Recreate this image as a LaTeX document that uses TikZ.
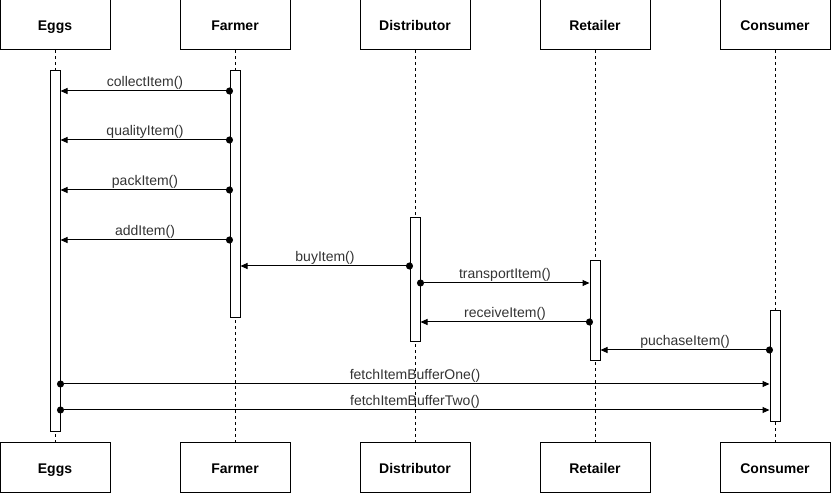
\documentclass[tikz,border=0pt]{standalone}
\usepackage{fontspec}
\setmainfont{Liberation Sans}
\usetikzlibrary{arrows.meta}

\begin{document}
\begin{tikzpicture}[x=1pt,y=-1pt,line width=1pt,
      head/.style={draw,minimum width=110pt,minimum height=50pt,inner sep=0pt,text height=12pt,text depth=0pt,font=\fontsize{14}{16}\selectfont\bfseries},
      bar/.style={draw,fill=white,minimum width=10pt,inner sep=0pt,anchor=north},
      life/.style={line width=0.8pt,dash pattern=on 3pt off 3pt},
      msg/.style={{Circle[length=7pt]}-{Triangle[length=7pt,width=6pt]},shorten <=-3.5pt},
      lbl/.style={above=0pt,inner sep=1pt,text=black!80,font=\fontsize{14}{16}\selectfont}]
  \useasboundingbox (0,0) rectangle (831,494);
  % heads, top and bottom
  \node[head] (eggs) at (55,25) {Eggs};
  \node[head] (farmer) at (235,25) {Farmer};
  \node[head] (dist) at (415,25) {Distributor};
  \node[head] (retail) at (595,25) {Retailer};
  \node[head] (cons) at (775,25) {Consumer};
  \node[head] (eggsb) at (55,468) {Eggs};
  \node[head] (farmerb) at (235,468) {Farmer};
  \node[head] (distb) at (415,468) {Distributor};
  \node[head] (retailb) at (595,468) {Retailer};
  \node[head] (consb) at (775,468) {Consumer};
  % lifelines
  \draw[life] (eggs.south) -- (eggsb.north);
  \draw[life] (farmer.south) -- (farmerb.north);
  \draw[life] (dist.south) -- (distb.north);
  \draw[life] (retail.south) -- (retailb.north);
  \draw[life] (cons.south) -- (consb.north);
  % activations
  \node[bar,minimum height=361pt] (eggsbar) at (55,70) {};
  \node[bar,minimum height=247pt] (farmerbar) at (235,70) {};
  \node[bar,minimum height=124pt] (distbar) at (415,217) {};
  \node[bar,minimum height=100pt] (retailbar) at (595,260) {};
  \node[bar,minimum height=111pt] (consbar) at (775,310) {};
  % messages
  \draw[msg] (farmerbar.west |- 0,91) -- node[lbl]{collectItem()} (eggsbar.east |- 0,91);
  \draw[msg] (farmerbar.west |- 0,140) -- node[lbl]{qualityItem()} (eggsbar.east |- 0,140);
  \draw[msg] (farmerbar.west |- 0,190) -- node[lbl]{packItem()} (eggsbar.east |- 0,190);
  \draw[msg] (farmerbar.west |- 0,240) -- node[lbl]{addItem()} (eggsbar.east |- 0,240);
  \draw[msg] (distbar.west |- 0,266) -- node[lbl]{buyItem()} (farmerbar.east |- 0,266);
  \draw[msg] (distbar.east |- 0,283) -- node[lbl]{transportItem()} (retailbar.west |- 0,283);
  \draw[msg] (retailbar.west |- 0,322) -- node[lbl]{receiveItem()} (distbar.east |- 0,322);
  \draw[msg] (consbar.west |- 0,350) -- node[lbl]{puchaseItem()} (retailbar.east |- 0,350);
  \draw[msg] (eggsbar.east |- 0,384) -- node[lbl]{fetchItemBufferOne()} (consbar.west |- 0,384);
  \draw[msg] (eggsbar.east |- 0,410) -- node[lbl]{fetchItemBufferTwo()} (consbar.west |- 0,410);
\end{tikzpicture}
\end{document}
